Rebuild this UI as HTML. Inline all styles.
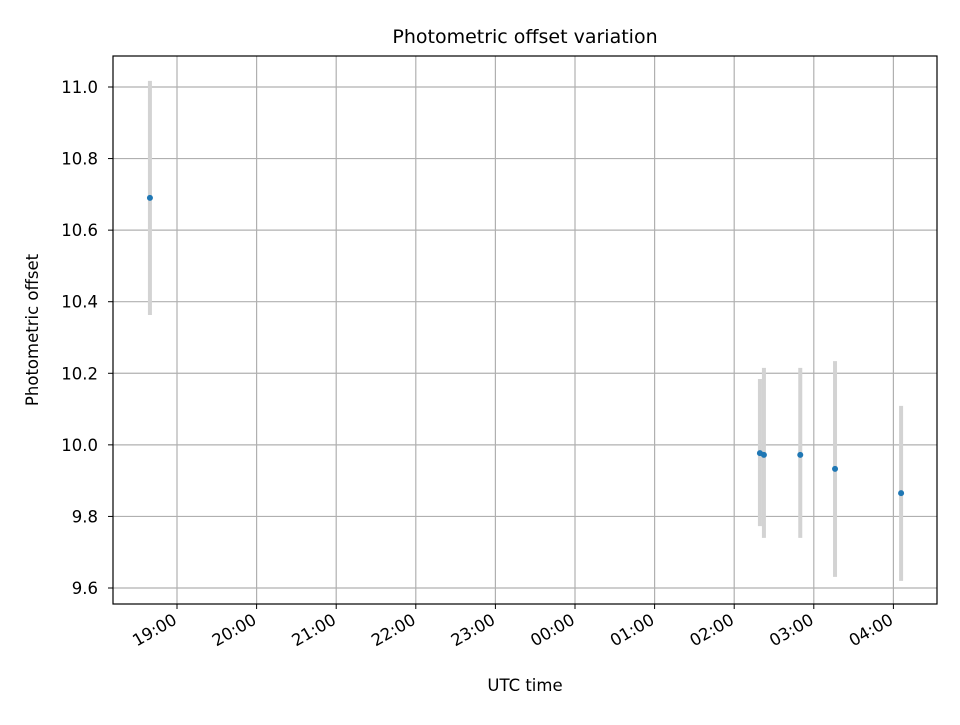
<!DOCTYPE html>
<html><head><meta charset="utf-8"><style>
body{margin:0;background:#fff;font-family:"Liberation Sans","DejaVu Sans",sans-serif;}
svg text{font-family:"DejaVu Sans","Liberation Sans",sans-serif;fill:#000;}
</style></head><body>
<svg id="chart" width="960" height="720" xmlns="http://www.w3.org/2000/svg">
<rect width="960" height="720" fill="#fff"/>
<g id="grid"></g>
<g id="bars"></g>
<g id="pts"></g>
<rect x="113" y="56" width="824" height="548" fill="none" stroke="#000" stroke-width="1.2"/>
<g id="ticks"></g>
<text x="525" y="43" font-size="19" text-anchor="middle">Photometric offset variation</text>
<text x="525" y="691" font-size="16.5" text-anchor="middle">UTC time</text>
<text transform="translate(38,330) rotate(-90)" font-size="16.5" text-anchor="middle">Photometric offset</text>
</svg>
<script>
// times in minutes after 18:00 UTC
const times=[39.6,499.4,502.4,529.8,556,605.8];
const values=[10.690,9.977,9.972,9.972,9.933,9.865];
const lower=[10.363,9.773,9.740,9.740,9.631,9.620];
const upper=[11.017,10.184,10.215,10.215,10.234,10.109];
const yTicks=[9.6,9.8,10.0,10.2,10.4,10.6,10.8,11.0];
const xTickMins=[60,120,180,240,300,360,420,480,540,600];
const xTickLabels=["19:00","20:00","21:00","22:00","23:00","00:00","01:00","02:00","03:00","04:00"];
const NS="http://www.w3.org/2000/svg";
const X=m=>177+(m-60)*79.6/60;
const Y=v=>588-(v-9.6)*357.86;
function mk(t,a,p){const e=document.createElementNS(NS,t);for(const k in a)e.setAttribute(k,a[k]);p.appendChild(e);return e;}
const grid=document.getElementById('grid'),ticks=document.getElementById('ticks'),bars=document.getElementById('bars'),pts=document.getElementById('pts');
yTicks.forEach(v=>{const y=Y(v);
 const g=mk('line',{x1:113,x2:937,y1:y,y2:y,stroke:'#b0b0b0','stroke-width':1.2},grid);
 
 mk('line',{x1:108,x2:113,y1:y,y2:y,stroke:'#000'},ticks);
 const t=mk('text',{x:98,y:y+6,'font-size':16.5,'text-anchor':'end'},ticks);t.textContent=v.toFixed(1);
 });
xTickMins.forEach((m,i)=>{const x=X(m);
 const g=mk('line',{x1:x,x2:x,y1:56,y2:604,stroke:'#b0b0b0','stroke-width':1.2},grid);
 
 mk('line',{x1:x,x2:x,y1:604,y2:609,stroke:'#000'},ticks);
 const t=mk('text',{transform:`translate(${x+1},${623}) rotate(-30)`,'font-size':16.5,'text-anchor':'end'},ticks);t.textContent=xTickLabels[i];
 });
times.forEach((m,i)=>{const x=X(m);
 const b=mk('line',{x1:x,x2:x,y1:Y(upper[i]),y2:Y(lower[i]),stroke:'#d3d3d3','stroke-width':4},bars);
 
 const c=mk('circle',{cx:x,cy:Y(values[i]),r:3,fill:'#1f77b4'},pts);
 });
</script>
</body></html>
